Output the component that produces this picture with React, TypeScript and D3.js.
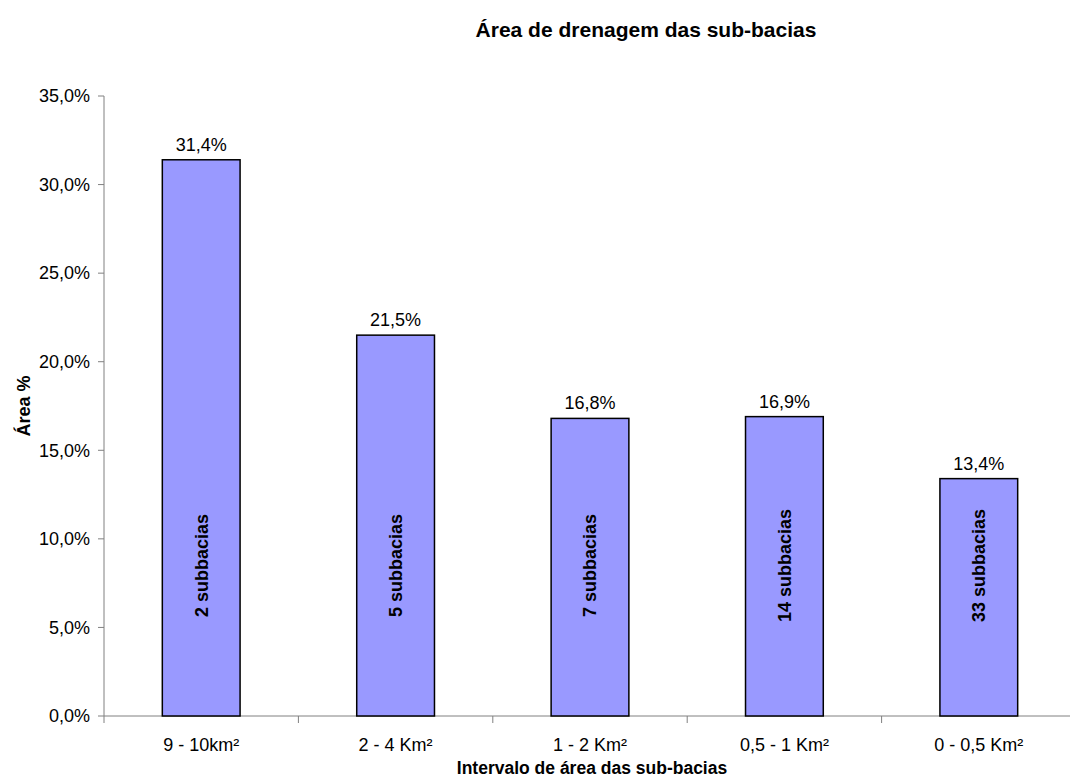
import React from 'react';
import * as d3 from 'd3';

const categories = ['9 - 10km²', '2 - 4 Km²', '1 - 2 Km²', '0,5 - 1 Km²', '0 - 0,5 Km²'];
const areaPct = [31.4, 21.5, 16.8, 16.9, 13.4];
const barLabels = ['2 subbacias', '5 subbacias', '7 subbacias', '14 subbacias', '33 subbacias'];
const yTicks = [0, 5, 10, 15, 20, 25, 30, 35];

const width = 1070;
const height = 780;
const marginLeft = 104;
const plotRight = 1076;
const marginTop = 96;
const plotBottom = 716;

const fmt = (v: number) => v.toFixed(1).replace('.', ',') + '%';

const App = () => {
  const x = d3.scaleBand<string>()
    .domain(categories)
    .range([marginLeft, plotRight])
    .paddingInner(0.6)
    .paddingOuter(0.3);

  const y = d3.scaleLinear().domain([0, 35]).range([plotBottom, marginTop]);

  const font = '"Liberation Sans", Arial, sans-serif';
  const axisColor = '#808080';

  return (
    <svg width={width} height={height} style={{ position: 'absolute', left: 0, top: 0 }} fontFamily={font}>
      <rect width={width} height={height} fill="#fff" />
      {/* title */}
      <text x={646} y={30} dy="0.35em" textAnchor="middle" fontSize={21} fontWeight="bold">
        Área de drenagem das sub-bacias
      </text>

      {/* y axis */}
      <line x1={marginLeft} x2={marginLeft} y1={marginTop} y2={plotBottom} stroke={axisColor} />
      {yTicks.map(t => (
        <g key={t}>
          <line x1={marginLeft - 6} x2={marginLeft} y1={y(t)} y2={y(t)} stroke={axisColor} />
          <text x={90} y={y(t)} dy="0.35em" textAnchor="end" fontSize={18}>{fmt(t)}</text>
        </g>
      ))}

      {/* x axis */}
      <line x1={marginLeft} x2={plotRight} y1={plotBottom} y2={plotBottom} stroke={axisColor} />
      {categories.map((c, i) => {
        const left = marginLeft + i * x.step();
        return (
          <g key={c}>
            <line x1={left} x2={left} y1={plotBottom} y2={plotBottom + 7} stroke={axisColor} />
            <text x={x(c)! + x.bandwidth() / 2} y={745} dy="0.35em" textAnchor="middle" fontSize={18}>{c}</text>
          </g>
        );
      })}

      {/* bars */}
      {categories.map((c, i) => {
        const bx = x(c)!;
        const bw = x.bandwidth();
        const cx = bx + bw / 2;
        const ly = y(8.5);
        return (
          <g key={c}>
            <rect x={bx} y={y(areaPct[i])} width={bw} height={plotBottom - y(areaPct[i])}
              fill="#9999FF" stroke="#000" strokeWidth={1.5} />
            <text x={cx} y={y(areaPct[i]) - 9} textAnchor="middle" fontSize={18}>{fmt(areaPct[i])}</text>
            <text transform={`translate(${cx},${ly}) rotate(-90)`} dy="0.35em" textAnchor="middle"
              fontSize={18} fontWeight="bold">{barLabels[i]}</text>
          </g>
        );
      })}

      {/* axis titles */}
      <text x={592} y={768} dy="0.35em" textAnchor="middle" fontSize={17.5} fontWeight="bold">
        Intervalo de área das sub-bacias
      </text>
      <text transform={`translate(24,${(marginTop + plotBottom) / 2}) rotate(-90)`} dy="0.35em"
        textAnchor="middle" fontSize={18} fontWeight="bold">
        Área %
      </text>
    </svg>
  );
};

export default App;
